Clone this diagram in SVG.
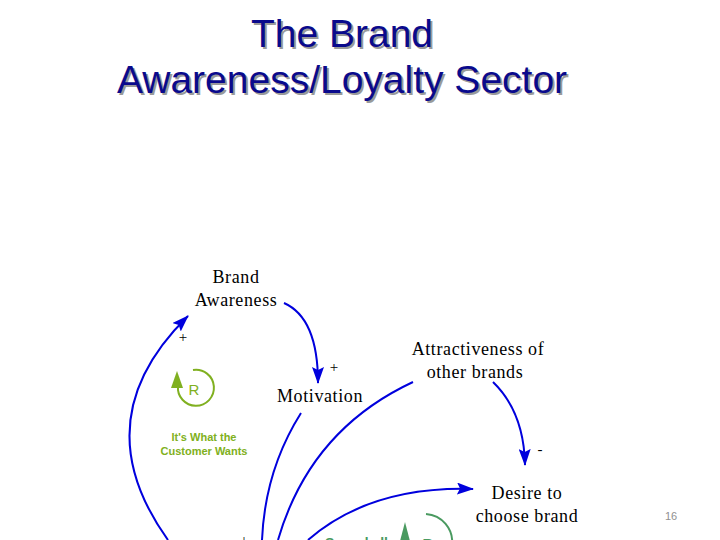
<svg xmlns="http://www.w3.org/2000/svg" width="720" height="540" viewBox="0 0 720 540">
<style>
.title{font-family:"Liberation Sans",Arial,sans-serif;font-size:39px;text-anchor:middle}
.node{font-family:"Liberation Serif","Times New Roman",serif;font-size:18px;letter-spacing:0.6px;fill:#000;text-anchor:middle}
.sign{font-family:"Liberation Serif",serif;font-size:15px;fill:#000;text-anchor:middle}
.link{fill:none;stroke:#0000dd;stroke-width:2}
.loopg{fill:none;stroke:#80b020;stroke-width:2}
.loopd{fill:none;stroke:#4a9a60;stroke-width:2}
.lbl{font-family:"Liberation Sans",Arial,sans-serif;font-size:11px;font-weight:bold;fill:#80b020;text-anchor:middle}
</style>
<defs>
<marker id="ah" viewBox="0 0 17 12" refX="16" refY="6" markerWidth="17" markerHeight="12" markerUnits="userSpaceOnUse" orient="auto">
<path d="M0,0 L17,6 L0,12 L3,6 Z" fill="#0000dd"/>
</marker>
</defs>
<rect width="720" height="540" fill="#fff"/>
<g id="title">
<text class="title" x="344" y="49" fill="#9a9a9a">The Brand</text>
<text class="title" x="344" y="95" fill="#9a9a9a">Awareness/Loyalty Sector</text>
<text class="title" x="342" y="47" fill="#0a0a8c">The Brand</text>
<text class="title" x="342" y="93" fill="#0a0a8c">Awareness/Loyalty Sector</text>
</g>
<g id="connectors">
<path class="link" d="M284,303 Q318,318 318,383" marker-end="url(#ah)"/>
<path class="link" d="M168,540 Q82,420 188,316" marker-end="url(#ah)"/>
<path class="link" d="M301,413 Q265,470 262,540"/>
<path class="link" d="M413,382 Q310,430 278,540"/>
<path class="link" d="M493,382 Q524,412 525,465" marker-end="url(#ah)"/>
<path class="link" d="M308,540 Q370,486 473,489" marker-end="url(#ah)"/>
<text class="sign" x="183" y="342">+</text>
<text class="sign" x="334" y="372">+</text>
<text class="sign" x="540" y="454">-</text>
<text class="sign" x="244" y="545">+</text>
</g>
<g id="brand-awareness"><text class="node" x="236" y="283">Brand</text><text class="node" x="236" y="306">Awareness</text></g>
<g id="motivation"><text class="node" x="320" y="402">Motivation</text></g>
<g id="attractiveness"><text class="node" x="478" y="355">Attractiveness of</text><text class="node" x="475" y="378">other brands</text></g>
<g id="desire"><text class="node" x="527" y="499">Desire to</text><text class="node" x="527" y="522">choose brand</text></g>
<g id="loop-r">
<path class="loopg" d="M178,386 A18,18 0 1 0 193,370"/>
<path d="M177,371 L183,388 L171,388 Z" fill="#80b020"/>
<text x="194" y="395" font-family="Liberation Sans,Arial,sans-serif" font-size="15" fill="#80b020" text-anchor="middle">R</text>
<text class="lbl" x="204" y="441">It's What the</text>
<text class="lbl" x="204" y="455">Customer Wants</text>
</g>
<g id="loop-b">
<path class="loopd" d="M426,514 A28,28 0 0 1 452,545"/>
<path d="M405,522 L411,545 L399,545 Z" fill="#4a9a60"/>
<text x="428" y="552" font-family="Liberation Sans,Arial,sans-serif" font-size="18" fill="#4a9a60" text-anchor="middle">B</text>
<text x="325" y="548" font-family="Liberation Sans,Arial,sans-serif" font-size="14" font-weight="bold" fill="#4a9a60">Sounds ll</text>
</g>
<text x="671" y="520" font-family="Liberation Sans,Arial,sans-serif" font-size="11" fill="#909090" text-anchor="middle">16</text>
</svg>
